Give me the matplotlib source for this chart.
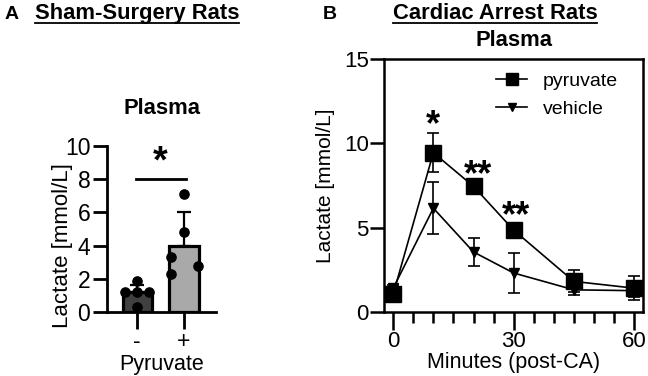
import numpy as np
import matplotlib
matplotlib.use("Agg")
import matplotlib.pyplot as plt
from matplotlib.lines import Line2D
from matplotlib.ticker import MultipleLocator

plt.rcParams['font.family'] = ['Liberation Sans', 'DejaVu Sans']

# ---- panel A data (sham surgery) ----
sham_groups = ['-', '+']
sham_means = [1.2, 4.0]
sham_sd = [0.45, 2.0]
sham_points = [[1.85, 1.2, 1.2, 1.2, 0.3],
               [7.1, 4.8, 3.3, 2.3, 2.8]]
sham_jitter = [[0.0, -0.25, 0.0, 0.25, 0.0],
               [0.0, 0.0, -0.28, -0.28, 0.3]]
sham_colors = ['#404040', '#a9a9a9']

# ---- panel B data (cardiac arrest) ----
minutes = [0, 10, 20, 30, 45, 60]
pyr_mean = [1.05, 9.45, 7.45, 4.85, 1.8, 1.4]
pyr_sd = [0.15, 1.15, 0.2, 0.45, 0.65, 0.7]
veh_mean = [1.4, 6.15, 3.55, 2.3, 1.3, 1.25]
veh_sd = [0.2, 1.55, 0.85, 1.2, 0.3, 0.35]
stars_x = [10, 21, 30.5]
stars_y = [10.5, 7.5, 5.1]
stars_txt = ['*', '**', '**']

W, H = 648, 376
fig = plt.figure(figsize=(6.48, 3.76), dpi=100)


def px(x, y):
    return x / W, 1 - y / H


# ---------------- panel A ----------------
axA = fig.add_axes([107 / W, 1 - 312 / H, 109 / W, 166 / H])
xpos = np.arange(len(sham_groups))
axA.bar(xpos, sham_means, width=0.62, color=sham_colors, edgecolor='black',
        linewidth=2.3, zorder=2)
for i in range(len(xpos)):
    axA.errorbar(xpos[i], sham_means[i], yerr=[[0], [sham_sd[i]]], fmt='none',
                 ecolor='black', elinewidth=1.6, capsize=5, capthick=1.6, zorder=1)
    axA.scatter(xpos[i] + np.array(sham_jitter[i]), sham_points[i], s=44,
                color='black', zorder=3, clip_on=False)
axA.plot([-0.02, 1.04], [8.0, 8.0], color='black', lw=2)
axA.text(0.5, 8.4, '*', ha='center', va='baseline', fontsize=27, fontweight='bold')
axA.set_xlim(-0.64, 1.68)
axA.set_ylim(0, 10)
axA.set_yticks([0, 2, 4, 6, 8, 10])
axA.set_xticks(xpos)
axA.set_xticklabels(sham_groups)
axA.set_xlabel('Pyruvate', fontsize=15.5, labelpad=1)
axA.set_ylabel('Lactate [mmol/L]', fontsize=16)
axA.yaxis.set_label_coords(-0.31, 0.40)
for s in ['top', 'right']:
    axA.spines[s].set_visible(False)
for s in ['left', 'bottom']:
    axA.spines[s].set_linewidth(2.0)
axA.tick_params(axis='y', length=10, width=2.0, labelsize=16.5, pad=2)
axA.tick_params(axis='x', length=12, width=2.0, labelsize=16.5, pad=1)

# ---------------- panel B ----------------
axB = fig.add_axes([384 / W, 1 - 311.7 / H, 259.3 / W, 252.4 / H])
axB.errorbar(minutes, pyr_mean, yerr=pyr_sd, color='black', lw=1.2, marker='s',
             markersize=11, elinewidth=1.2, capsize=4.5, capthick=1.2,
             clip_on=False, zorder=3)
axB.errorbar(minutes, veh_mean, yerr=veh_sd, color='black', lw=1.2, marker='v',
             markersize=7, elinewidth=1.2, capsize=4.5, capthick=1.2,
             clip_on=False, zorder=3)
for x, y, t in zip(stars_x, stars_y, stars_txt):
    axB.text(x, y, t, ha='center', va='baseline', fontsize=26, fontweight='bold')
axB.set_xlim(-2.3, 62.3)
axB.set_ylim(0, 15)
axB.set_xticks([0, 30, 60])
axB.xaxis.set_minor_locator(MultipleLocator(5))
axB.set_yticks([0, 5, 10, 15])
axB.set_xlabel('Minutes (post-CA)', fontsize=15.5, labelpad=0)
axB.set_ylabel('Lactate [mmol/L]', fontsize=15)
axB.yaxis.set_label_coords(-0.19, 0.50)
for s in axB.spines.values():
    s.set_linewidth(1.8)
axB.tick_params(axis='y', length=10, width=1.8, labelsize=16, pad=1)
axB.tick_params(axis='x', which='major', length=13, width=1.8, labelsize=16, pad=1)
axB.tick_params(axis='x', which='minor', length=8, width=1.8)
handles = [Line2D([], [], color='black', lw=1.2, marker='s', markersize=9),
           Line2D([], [], color='black', lw=1.2, marker='v', markersize=6)]
axB.legend(handles, ['pyruvate', 'vehicle'], loc='upper left',
           bbox_to_anchor=(0.433, 0.947), frameon=False, fontsize=14,
           handlelength=1.6, handletextpad=0.8, labelspacing=0.5,
           borderpad=0, borderaxespad=0)

# ---------------- headings ----------------
fig.text(*px(12, 19), 'A', ha='center', va='baseline', fontsize=14, fontweight='bold')
fig.text(*px(330, 19), 'B', ha='center', va='baseline', fontsize=14, fontweight='bold')
tA = fig.text(*px(137, 19), 'Sham-Surgery Rats', ha='center', va='baseline',
              fontsize=15.8, fontweight='bold')
tB = fig.text(*px(495, 19), 'Cardiac Arrest Rats', ha='center', va='baseline',
              fontsize=15.8, fontweight='bold')
fig.text(*px(162, 114), 'Plasma', ha='center', va='baseline', fontsize=15.8,
         fontweight='bold')
fig.text(*px(514, 46), 'Plasma', ha='center', va='baseline', fontsize=15.8,
         fontweight='bold')

# underline the group titles
fig.canvas.draw()
r = fig.canvas.get_renderer()
for t in (tA, tB):
    bb = t.get_window_extent(r)
    x0, x1 = bb.x0 / W, bb.x1 / W
    yl = 1 - 23 / H
    fig.add_artist(Line2D([x0, x1], [yl, yl], color='black', lw=1.3))

fig.savefig('out.png', dpi=100)
